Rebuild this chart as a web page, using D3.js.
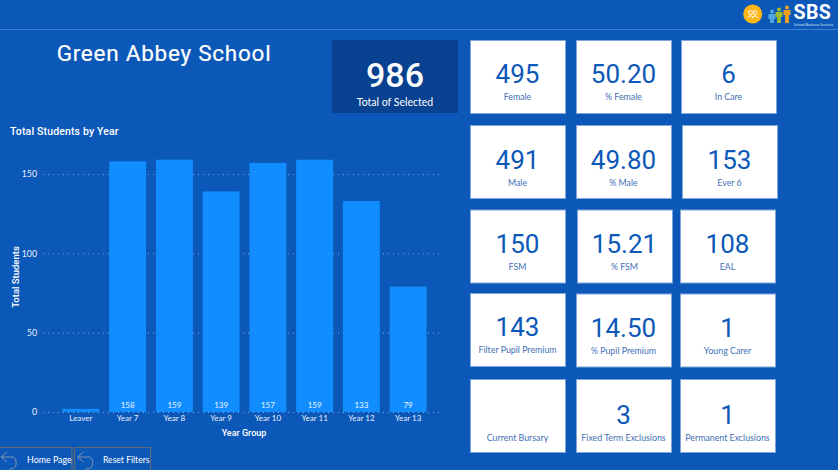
<!DOCTYPE html>
<html><head><meta charset="utf-8">
<script src="https://cdn.jsdelivr.net/npm/d3@7"></script>
<style>html,body{margin:0;padding:0;background:#0c58b8;overflow:hidden}svg{display:block}</style>
</head><body><svg id="c" width="838" height="470"></svg>
<script>
const categories=["Leaver","Year 7","Year 8","Year 9","Year 10","Year 11","Year 12","Year 13"];
const values=[2,158,159,139,157,159,133,79];
const barLabels=["","158","159","139","157","159","133","79"];
const yTicks=[0,50,100,150];
const cardValues=["495","50.20","6","491","49.80","153","150","15.21","108","143","14.50","1","","3","1"];
const cardLabels=["Female","% Female","In Care","Male","% Male","Ever 6","FSM","% FSM","EAL","Filter Pupil Premium","% Pupil Premium","Young Carer","Current Bursary","Fixed Term Exclusions","Permanent Exclusions"];
const cardLeft=[[470,576,681],[470,576,682],[470,577,680],[470,576,680],[470,576,680]];
const cardTop=[[40,40,40],[125,125,125],[209.5,209.5,209.5],[293,293.5,293.5],[379,379,379]];
const numBase=[43,43.5,43.5,43,44.5];
const labBase=[59.5,60.5,60.5,60,61.5];
const svg=d3.select("#c");
const num="Roboto",lab="Lato";
svg.append("rect").attr("width",838).attr("height",470).attr("fill","#0c58b8");
svg.append("line").attr("x1",0).attr("x2",838).attr("y1",29.5).attr("y2",29.5).attr("stroke","#3f7fcf").attr("stroke-width",1);
svg.append("text").attr("x",164).attr("y",61).attr("text-anchor","middle").attr("fill","#fff").attr("font-family",num).attr("font-weight",400).attr("font-size",22.5).attr("letter-spacing",0.75).attr("stroke","#fff").attr("stroke-width",0.2).text("Green Abbey School");
// header logo
svg.append("circle").attr("cx",752.7).attr("cy",14).attr("r",9.5).attr("fill","#fdb515");
[[750.5,12.5],[755,12.5]].forEach(([cx,cy])=>{
  svg.append("circle").attr("cx",cx).attr("cy",cy).attr("r",1.9).attr("fill","none").attr("stroke","#fff").attr("stroke-width",1);
  svg.append("path").attr("d",`M${cx-3},18 Q${cx},13.5 ${cx+3},18`).attr("fill","none").attr("stroke","#fff").attr("stroke-width",1);
});
[[772,"#4fa9e0",12],[779,"#9dbb2c",14],[787,"#f0a21e",16]].forEach(([x,c,h])=>{
  svg.append("circle").attr("cx",x).attr("cy",24-h-0.5).attr("r",2).attr("fill",c);
  svg.append("path").attr("d",`M${x-3.5},${24-h+2} h7 v5 h-1.6 v${h-8} h-3.8 v${-(h-8)} h-1.6 z`).attr("fill",c);
});
svg.append("text").attr("x",793.5).attr("y",19).attr("fill","#fff").attr("font-family","Roboto").attr("font-weight",700).attr("font-size",19.5).attr("letter-spacing",0.4).text("SBS");
svg.append("text").attr("x",794).attr("y",25.5).attr("fill","#cfe0f5").attr("font-family",lab).attr("font-size",3.6).text("School Business Services");
// total card
svg.append("rect").attr("x",332).attr("y",40).attr("width",126).attr("height",73).attr("fill","#07418f");
svg.append("text").attr("x",395).attr("y",86.5).attr("text-anchor","middle").attr("fill","#fff").attr("font-family",num).attr("font-weight",500).attr("font-size",34).text("986");
svg.append("text").attr("x",395).attr("y",106).attr("text-anchor","middle").attr("fill","#fff").attr("font-family",lab).attr("font-size",10.5).text("Total of Selected");
// cards
cardLabels.forEach((l,i)=>{
  const r=Math.floor(i/3),c=i%3;
  const g=svg.append("g").attr("transform",`translate(${cardLeft[r][c]},${cardTop[r][c]})`);
  g.append("rect").attr("x",.5).attr("y",.5).attr("width",95).attr("height",73).attr("fill","#fff").attr("stroke","#7fa6dc").attr("stroke-width",1);
  g.append("text").attr("x",47.5).attr("y",numBase[r]).attr("text-anchor","middle").attr("fill","#0c58b8").attr("font-family",num).attr("font-size",26).text(cardValues[i]);
  g.append("text").attr("x",47.5).attr("y",labBase[r]).attr("text-anchor","middle").attr("fill","#3f6fb5").attr("font-family",lab).attr("font-size",8.8).text(l);
});
// chart
const x=d3.scaleBand().domain(categories).range([57.5,431.5]).paddingInner(0.21).paddingOuter(0.105);
const y=d3.scaleLinear().domain([0,150]).range([412,174]);
svg.append("text").attr("x",10).attr("y",135).attr("fill","#fff").attr("font-family",num).attr("font-weight",500).attr("font-size",10.5).attr("letter-spacing",0.15).text("Total Students by Year");
const ga=svg.append("g").attr("transform","translate(43,0)").call(d3.axisLeft(y).tickValues(yTicks).tickSize(0).tickPadding(6));
ga.select(".domain").remove();
ga.selectAll("text").attr("fill","#e8f0fb").attr("font-family",lab).attr("font-size",8.8);
ga.selectAll("line").attr("x1",0).attr("x2",397).attr("stroke","#7fa9de").attr("stroke-dasharray","1 4");
svg.selectAll(".bar").data(values).join("rect").attr("x",(d,i)=>x(categories[i])).attr("width",x.bandwidth()).attr("y",d=>y(d)).attr("height",d=>y(0)-y(d)).attr("fill","#118dff");
svg.selectAll(".bl").data(barLabels).join("text").attr("x",(d,i)=>x(categories[i])+x.bandwidth()/2).attr("y",408).attr("text-anchor","middle").attr("fill","#eef5ff").attr("font-family",lab).attr("font-size",8).text(d=>d);
const gx=svg.append("g").attr("transform","translate(0,412)").call(d3.axisBottom(x).tickSize(0).tickPadding(3));
gx.select(".domain").remove();
gx.selectAll("text").attr("fill","#e8f0fb").attr("font-family",lab).attr("font-size",8);
svg.append("text").attr("x",244).attr("y",436).attr("text-anchor","middle").attr("fill","#fff").attr("font-family",num).attr("font-weight",500).attr("font-size",9).text("Year Group");
svg.append("text").attr("transform","translate(18.5,277) rotate(-90)").attr("text-anchor","middle").attr("fill","#fff").attr("font-family",num).attr("font-weight",500).attr("font-size",9.5).text("Total Students");
// buttons
[[-2,74,"Home Page",27,8.9],[74.5,76,"Reset Filters",103,8.6]].forEach(([bx,w,t,tx,fs])=>{
  svg.append("rect").attr("x",bx).attr("y",447.5).attr("width",w).attr("height",30).attr("fill","none").attr("stroke","#5f6a78").attr("stroke-width",1.2);
  const ax=bx+3;
  svg.append("path").attr("d",`M${ax+6},452 L${ax},457 L${ax+6},462 M${ax},457 L${ax+12},457 Q${ax+16},459 ${ax+15},465 Q${ax+14},469 ${ax+8},469`).attr("fill","none").attr("stroke","#7f93ad").attr("stroke-width",1);
  svg.append("text").attr("x",tx).attr("y",463).attr("fill","#fff").attr("font-family",lab).attr("font-size",fs).text(t);
});
</script></body></html>
